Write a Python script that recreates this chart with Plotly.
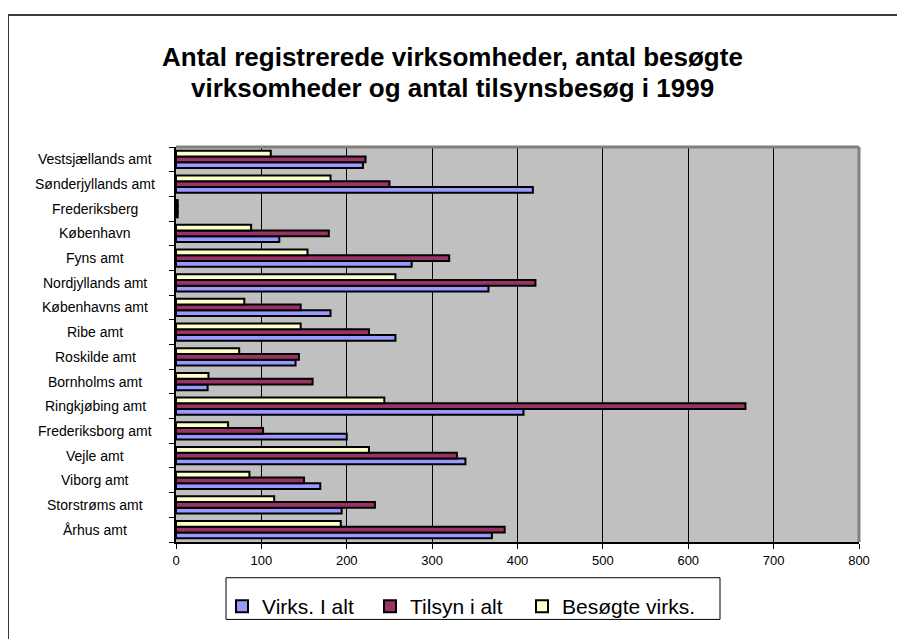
import plotly.graph_objects as go

# Categories, bottom to top as they appear on the chart
categories = [
    "Århus amt", "Storstrøms amt", "Viborg amt", "Vejle amt",
    "Frederiksborg amt", "Ringkjøbing amt", "Bornholms amt", "Roskilde amt",
    "Ribe amt", "Københavns amt", "Nordjyllands amt", "Fyns amt",
    "København", "Frederiksberg", "Sønderjyllands amt", "Vestsjællands amt",
]
virks_i_alt = [370, 194, 169, 339, 200, 407, 37, 140, 257, 181, 366, 276, 121, 2, 418, 219]
tilsyn_i_alt = [385, 233, 150, 329, 102, 667, 160, 144, 226, 146, 421, 320, 179, 2, 250, 222]
besogte_virks = [193, 115, 86, 226, 61, 244, 38, 74, 146, 80, 257, 154, 88, 2, 181, 111]
series_names = ["Virks. I alt", "Tilsyn i alt", "Besøgte virks."]
x_ticks = [0, 100, 200, 300, 400, 500, 600, 700, 800]
title_lines = ["Antal registrerede virksomheder, antal besøgte",
               "virksomheder og antal tilsynsbesøg i 1999"]

colors = ["#9999FF", "#993366", "#FFFFCC"]
FONT = "Arial, Liberation Sans, sans-serif"

# page offset of the figure (browser body margin)
OFF = 8
W, H = 905 - OFF, 639 - OFF
L, T = 176 - OFF, 147 - OFF
R = 905 - 859
B = 639 - 545
PW, PH = W - L - R, H - T - B


def px(x):
    """page pixel x -> paper x"""
    return (x - OFF - L) / PW


def py(y):
    """page pixel y -> paper y"""
    return 1 - (y - OFF - T) / PH


legend_ids = ["legend", "legend2", "legend3"]
legend_left = [222, 370, 522]

fig = go.Figure()
for name, vals, col, lid in zip(series_names, [virks_i_alt, tilsyn_i_alt, besogte_virks], colors, legend_ids):
    fig.add_trace(go.Bar(
        y=categories, x=vals, name=name, orientation="h", legend=lid,
        marker=dict(color=col, line=dict(color="black", width=2)),
    ))

annotations = []
for c in categories:
    annotations.append(dict(
        x=px(95), xref="paper", y=c, yref="y", text=c, showarrow=False,
        xanchor="center", yanchor="middle", font=dict(family=FONT, size=14, color="black"),
    ))
annotations.append(dict(x=px(452), xref="paper", y=py(56), yref="paper", text="<b>%s</b>" % title_lines[0],
                        showarrow=False, xanchor="center", yanchor="middle",
                        font=dict(family=FONT, size=26, color="black")))
annotations.append(dict(x=px(452), xref="paper", y=py(88), yref="paper", text="<b>%s</b>" % title_lines[1],
                        showarrow=False, xanchor="center", yanchor="middle",
                        font=dict(family=FONT, size=26, color="black")))

shapes = [
    # outer chart border (runs off the right and bottom edges)
    dict(type="rect", xref="paper", yref="paper", x0=px(8), x1=px(930), y0=py(680), y1=py(14),
         line=dict(color="#3a3a3a", width=2), layer="above"),
    # plot-area border
    dict(type="line", xref="paper", yref="paper", x0=0, x1=1, y0=1, y1=1,
         line=dict(color="#808080", width=3), layer="above"),
    dict(type="line", xref="paper", yref="paper", x0=1, x1=1, y0=0, y1=1,
         line=dict(color="#808080", width=3), layer="above"),
    # legend box
    dict(type="rect", xref="paper", yref="paper", x0=px(226), x1=px(720), y0=py(623), y1=py(581),
         line=dict(color="black", width=1), layer="above"),
]

legend_layout = {}
for lid, lx in zip(legend_ids, legend_left):
    legend_layout[lid] = dict(
        orientation="h", x=px(lx), xanchor="left", y=py(610), yanchor="middle",
        bgcolor="rgba(0,0,0,0)", borderwidth=0,
        font=dict(family=FONT, size=21, color="black"),
    )

fig.update_layout(
    width=W, height=H,
    margin=dict(l=L, r=R, t=T, b=B),
    paper_bgcolor="white", plot_bgcolor="#C0C0C0",
    barmode="group", bargap=0.3, bargroupgap=0,
    font=dict(family=FONT, color="black"),
    showlegend=True,
    xaxis=dict(range=[0, 800], tickvals=x_ticks, ticktext=[str(v) for v in x_ticks],
               showgrid=True, gridcolor="black", gridwidth=1, zeroline=False,
               showline=True, linecolor="black", linewidth=2,
               ticks="outside", ticklen=5, tickcolor="black",
               tickfont=dict(family=FONT, size=13, color="black"), fixedrange=True),
    yaxis=dict(categoryorder="array", categoryarray=categories, showticklabels=False,
               showline=True, linecolor="black", linewidth=2,
               ticks="outside", ticklen=5, tickcolor="black", tickson="boundaries",
               showgrid=False, zeroline=False, fixedrange=True),
    annotations=annotations, shapes=shapes,
    **legend_layout,
)

fig.write_html("out.html")
